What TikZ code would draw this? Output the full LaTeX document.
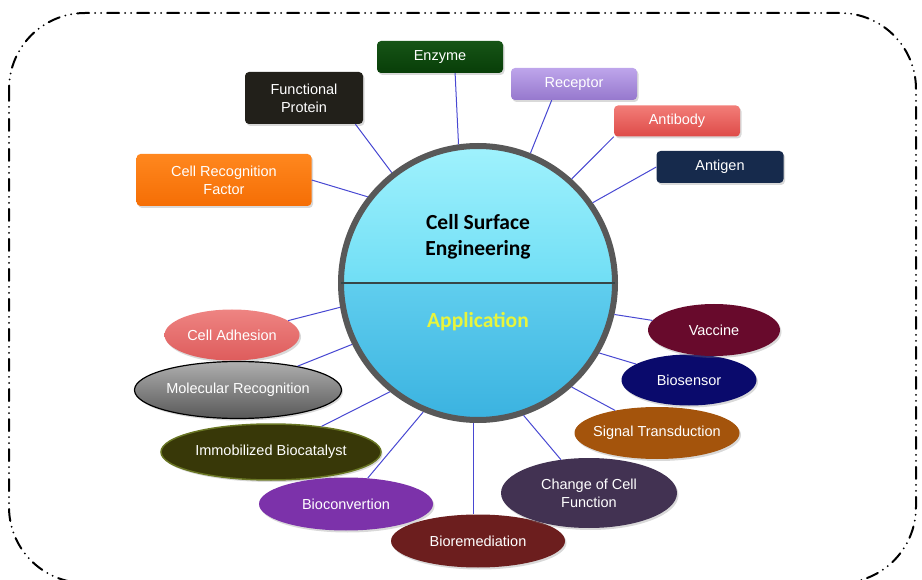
\documentclass[tikz,border=0pt]{standalone}
\usepackage{fontspec}
\setmainfont{Liberation Sans}
\newfontfamily\calibri{Carlito}
\usepackage{xcolor}
\usepackage{tikz}
\usetikzlibrary{shapes.geometric}
\usetikzlibrary{shadows}

\definecolor{linkblue}{RGB}{72,72,210}
\definecolor{rimgray}{RGB}{88,88,88}

\begin{document}
\begin{tikzpicture}[x=1pt,y=-1pt,
      box style/.style={rectangle,rounded corners=4pt,text=white,align=center,
        inner sep=0pt,font=\fontsize{14.5}{18}\selectfont,
        drop shadow={shadow xshift=1.5pt,shadow yshift=-2pt,opacity=0.3}},
      app style/.style={ellipse,text=white,align=center,inner xsep=-6pt,
        inner ysep=0pt,font=\fontsize{14.5}{18}\selectfont,
        drop shadow={shadow xshift=1.5pt,shadow yshift=-2pt,opacity=0.3}},
      link style/.style={draw=linkblue,line width=1pt}
      ]
      \useasboundingbox (0,0) rectangle (922,580);

      % outer frame
      \draw[line width=2pt,line cap=round,rounded corners=76pt,
        dash pattern=on 12pt off 6pt on 0pt off 6pt on 0pt off 6pt]
        (9,13) rectangle (916,583);

      % hub: two shaded halves, then the rim
      \begin{scope}
        \clip (478,283) circle (137pt);
        \shade[top color={rgb,255:red,160;green,242;blue,253},
          bottom color={rgb,255:red,112;green,222;blue,245}]
          (340,145) rectangle (616,283);
        \shade[top color={rgb,255:red,96;green,206;blue,238},
          bottom color={rgb,255:red,58;green,178;blue,224}]
          (340,283) rectangle (616,421);
      \end{scope}
      \node[circle,draw=rimgray,line width=6pt,minimum size=274pt] (cse) at (478,283) {};
      \draw[line width=2pt,draw={rgb,255:red,55;green,70;blue,72},shorten <=3pt,shorten >=3pt]
        (cse.west) -- (cse.east);
      \node[font=\calibri\bfseries\fontsize{21.5}{26}\selectfont,align=center] (csetitle) at (478,237) {Cell Surface\\Engineering};
      \node[font=\calibri\bfseries\fontsize{21.5}{26}\selectfont,text={rgb,255:red,232;green,245;blue,60}] (appl) at (478,322) {Application};

      % components on the surface
      \node[box style,minimum width=118pt,minimum height=52pt,fill={rgb,255:red,34;green,32;blue,26}] (fprot) at (304,98) {Functional\\Protein};
      \node[box style,minimum width=126pt,minimum height=32pt,top color={rgb,255:red,22;green,84;blue,22},bottom color={rgb,255:red,8;green,62;blue,8}] (enzyme) at (440,57) {Enzyme};
      \node[box style,minimum width=126pt,minimum height=32pt,top color={rgb,255:red,190;green,165;blue,235},bottom color={rgb,255:red,150;green,120;blue,205}] (receptor) at (574,84) {Receptor};
      \node[box style,minimum width=126pt,minimum height=31pt,top color={rgb,255:red,242;green,125;blue,120},bottom color={rgb,255:red,222;green,75;blue,72}] (antibody) at (677,121) {Antibody};
      \node[box style,minimum width=127pt,minimum height=32pt,fill={rgb,255:red,22;green,42;blue,76}] (antigen) at (720,167) {Antigen};
      \node[box style,minimum width=175pt,minimum height=52pt,top color={rgb,255:red,255;green,135;blue,30},bottom color={rgb,255:red,245;green,110;blue,5}] (crf) at (224,180) {Cell Recognition\\Factor};

      % applications
      \node[app style,minimum width=135pt,minimum height=51pt,top color={rgb,255:red,238;green,132;blue,130},bottom color={rgb,255:red,222;green,92;blue,92}] (cadh) at (232,335) {Cell Adhesion};
      \node[app style,minimum width=207pt,minimum height=57pt,draw=black,line width=1.2pt,top color={rgb,255:red,175;green,175;blue,175},bottom color={rgb,255:red,88;green,88;blue,88}] (mrec) at (238,390) {Molecular Recognition};
      \node[app style,minimum width=220pt,minimum height=56pt,draw={rgb,255:red,105;green,118;blue,36},line width=1.5pt,fill={rgb,255:red,56;green,56;blue,8}] (immob) at (271,452) {Immobilized Biocatalyst};
      \node[app style,minimum width=174pt,minimum height=53pt,fill={rgb,255:red,124;green,50;blue,170}] (biocon) at (346,504) {Bioconvertion};
      \node[app style,minimum width=174pt,minimum height=53pt,fill={rgb,255:red,108;green,30;blue,30}] (biorem) at (478,541) {Bioremediation};
      \node[app style,minimum width=176pt,minimum height=70pt,fill={rgb,255:red,66;green,50;blue,82}] (ccf) at (589,493) {Change of Cell\\Function};
      \node[app style,minimum width=165pt,minimum height=52pt,fill={rgb,255:red,164;green,84;blue,12}] (sig) at (657,433) {Signal Transduction};
      \node[app style,minimum width=135pt,minimum height=51pt,fill={rgb,255:red,10;green,10;blue,108}] (biosen) at (689,380) {Biosensor};
      \node[app style,minimum width=132pt,minimum height=52pt,fill={rgb,255:red,104;green,10;blue,44}] (vaccine) at (714,330) {Vaccine};

      % links to the hub
      \draw[link style] (cse.128) -- (fprot.-27);
      \draw[link style] (cse.98) -- (enzyme.-47);
      \draw[link style] (cse.68) -- (receptor.-144);
      \draw[link style] (cse.48) -- (antibody.south west);
      \draw[link style] (cse.35) -- (antigen.west);
      \draw[link style] (cse.142) -- (crf.east);
      \draw[link style] (cse.190) -- (cadh);
      \draw[link style] (cse.206) -- (mrec);
      \draw[link style] (cse.231) -- (immob);
      \draw[link style] (cse.247) -- (biocon);
      \draw[link style] (cse.268) -- (cse.268 |- biorem.north);
      \draw[link style] (cse.289) -- (ccf);
      \draw[link style] (cse.312) -- (sig);
      \draw[link style] (cse.330) -- (biosen);
      \draw[link style] (cse.347) -- (vaccine);

    \end{tikzpicture}
\end{document}
